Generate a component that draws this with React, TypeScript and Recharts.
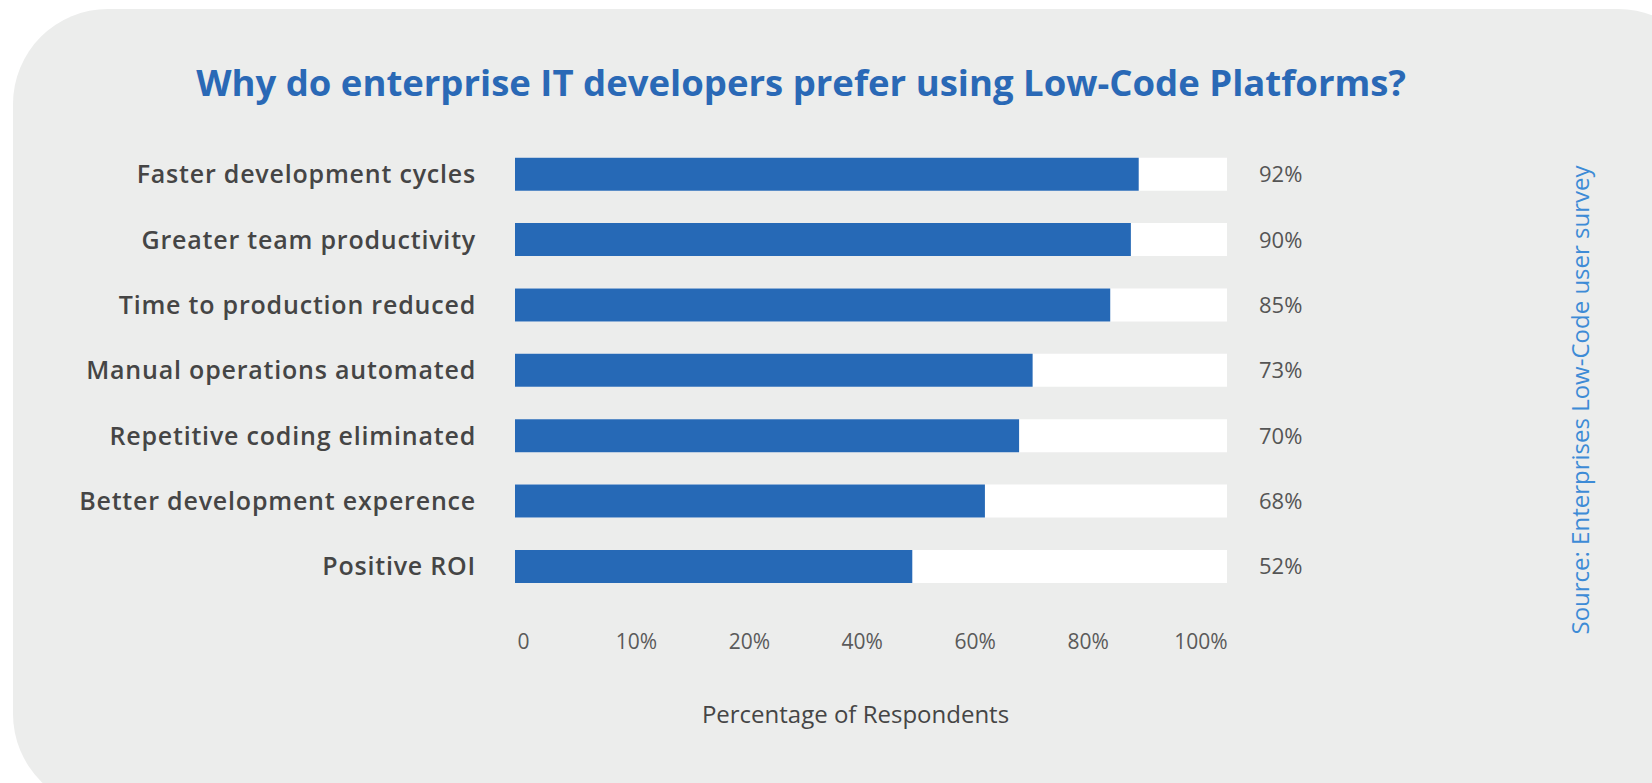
import { Bar, BarChart, XAxis, YAxis } from "recharts";

// reasons, top to bottom
const categories = [
  "Faster development cycles",
  "Greater team productivity",
  "Time to production reduced",
  "Manual operations automated",
  "Repetitive coding eliminated",
  "Better development experence",
  "Positive ROI",
];

// drawn bar length, in % of the white track
const barLengths = [87.6, 86.5, 83.6, 72.7, 70.8, 66.0, 55.8];

// value printed at the right of each track
const shownPercents = [92, 90, 85, 73, 70, 68, 52];

// the axis below is spaced evenly, labels are not
const tickLabels = ["0", "10%", "20%", "40%", "60%", "80%", "100%"];

const data = categories.map((name, i) => ({
  name,
  length: barLengths[i],
  pct: `${shownPercents[i]}%`,
}));

const tickIndexes = tickLabels.map((_, i) => i);

const FONT = "'Open Sans', Lato, sans-serif";

export default function App() {
  return (
    <div
      style={{
        position: "absolute",
        left: 0,
        top: 0,
        width: 1652,
        height: 783,
        overflow: "hidden",
        background: "#ffffff",
        fontFamily: FONT,
      }}
    >
      <div
        style={{
          position: "absolute",
          left: 13,
          top: 9,
          width: 1700,
          height: 800,
          borderRadius: 95,
          background: "#ecedec",
        }}
      />
      <div
        style={{
          position: "absolute",
          left: 0,
          top: 64,
          width: 1602,
          textAlign: "center",
          whiteSpace: "nowrap",
          fontSize: 36.5,
          lineHeight: 1,
          fontWeight: 700,
          color: "#2a69b6",
        }}
      >
        Why do enterprise IT developers prefer using Low-Code Platforms?
      </div>

      <div style={{ position: "absolute", left: 0, top: 0 }}>
        <BarChart
          width={1652}
          height={783}
          layout="vertical"
          data={data}
          margin={{ top: 141.75, right: 0, bottom: 153.75, left: 115 }}
        >
          <YAxis
            yAxisId="cat"
            type="category"
            dataKey="name"
            width={400}
            axisLine={false}
            tickLine={false}
            tickSize={0}
            tickMargin={39}
            tick={{
              fill: "#454545",
              fontSize: 25,
              fontWeight: 600,
              letterSpacing: 0.8,
              fontFamily: FONT,
            }}
          />
          <YAxis
            yAxisId="pct"
            orientation="right"
            type="category"
            dataKey="pct"
            width={425}
            axisLine={false}
            tickLine={false}
            tickSize={0}
            tickMargin={32}
            tick={{ fill: "#555555", fontSize: 22, fontFamily: FONT }}
          />
          <XAxis xAxisId="bar" type="number" domain={[0, 100]} hide />
          <XAxis
            xAxisId="tick"
            type="number"
            domain={[-0.076, 6.23]}
            allowDataOverflow
            ticks={tickIndexes}
            interval={0}
            tickFormatter={(v) => tickLabels[Math.round(v)]}
            height={30}
            axisLine={false}
            tickLine={false}
            tickSize={0}
            tickMargin={5}
            tick={{ fill: "#5a5a5a", fontSize: 21, fontFamily: FONT }}
          />
          <Bar
            dataKey="length"
            xAxisId="bar"
            yAxisId="cat"
            fill="#2669b6"
            barSize={33}
            background={{ fill: "#ffffff" }}
            isAnimationActive={false}
          />
        </BarChart>
      </div>

      <div
        style={{
          position: "absolute",
          left: 555.5,
          top: 702,
          width: 600,
          textAlign: "center",
          whiteSpace: "nowrap",
          fontSize: 24,
          lineHeight: 1,
          color: "#454545",
        }}
      >
        Percentage of Respondents
      </div>

      <div
        style={{
          position: "absolute",
          left: 1580,
          top: 400,
          transform: "translate(-50%, -50%) rotate(-90deg)",
          whiteSpace: "nowrap",
          fontSize: 24,
          lineHeight: 1,
          color: "#3d8bd6",
        }}
      >
        Source: Enterprises Low-Code user survey
      </div>
    </div>
  );
}
